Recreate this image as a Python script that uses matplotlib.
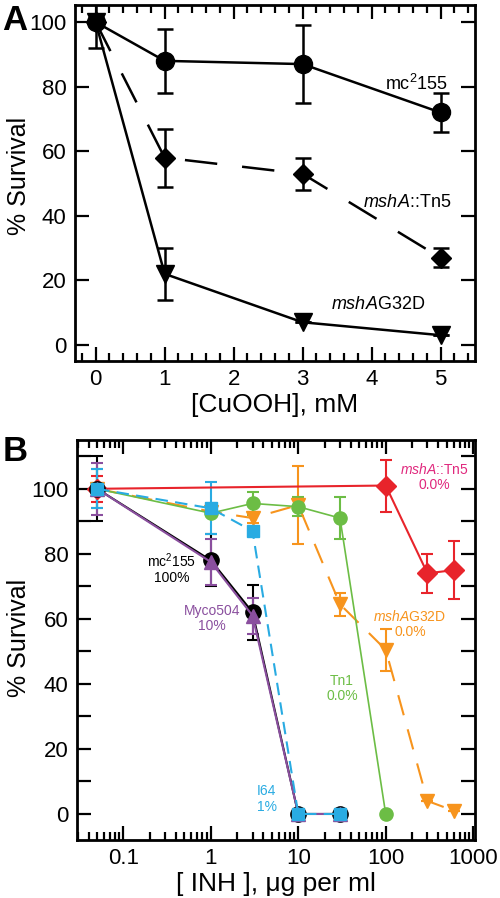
import numpy as np
import matplotlib.pyplot as plt
from matplotlib.ticker import MultipleLocator, LogLocator, NullFormatter

plt.rcParams['font.family'] = ['Liberation Sans', 'DejaVu Sans']
plt.rcParams['mathtext.fontset'] = 'custom'
plt.rcParams['mathtext.rm'] = 'Liberation Sans'
plt.rcParams['mathtext.it'] = 'Liberation Sans:italic'

# Panel A: CuOOH survival
cu_mM = [0, 1, 3, 5]
a_wt = [100, 88, 87, 72]
a_wt_err = [8, 10, 12, 6]
a_tn5 = [100, 58, 53, 27]
a_tn5_err = [0, 9, 5, 3]
a_g32d = [100, 22, 7, 3]
a_g32d_err = [0, 8, 0, 0]

# Panel B: INH survival
inh = [0.05, 1, 3, 10, 30, 100, 300, 600]
b_wt_x = [0.05, 1, 3, 10, 30]
b_wt = [100, 78, 62, 0, 0]
b_wt_err = [10, 8, 8.5, 0, 0]
b_myco_x = [0.05, 1, 3, 10, 30]
b_myco = [100, 77.5, 61, 0, 0]
b_myco_err = [8, 7, 5.5, 0, 0]
b_i64_x = [0.05, 1, 3, 10, 30]
b_i64 = [100, 94, 87, 0, 0]
b_i64_err = [6, 8, 0, 0, 0]
b_tn1_x = [0.05, 1, 3, 10, 30, 100]
b_tn1 = [100, 92.5, 95.5, 94.5, 91, 0]
b_tn1_err = [6, 0, 3.5, 3, 6.5, 0]
b_g32d_x = inh
b_g32d = [100, 93, 91, 95, 64.5, 50.5, 4, 1]
b_g32d_err = [0, 0, 1.5, 12, 3.5, 6.5, 0, 0]
b_tn5_x = [0.05, 100, 300, 600]
b_tn5 = [100, 101, 74, 75]
b_tn5_err = [4, 8, 6, 9]

RED = '#e8242b'
ORANGE = '#f7941d'
GREEN = '#6cbd45'
CYAN = '#29abe2'
PURPLE = '#8a4f9e'

fig = plt.figure(figsize=(5, 8.98), dpi=100)
axA = fig.add_axes([0.15, 0.598, 0.80, 0.3964])
axB = fig.add_axes([0.154, 0.0646, 0.796, 0.4454])

def style(ax):
    for s in ax.spines.values():
        s.set_linewidth(2)
    ax.tick_params(which='both', direction='in', top=True, right=True,
                   width=1.6, labelsize=16, pad=6)
    ax.tick_params(which='major', length=10)
    ax.tick_params(which='minor', length=5.5)

# ---- Panel A ----
ek = dict(capsize=6, elinewidth=1.8, capthick=1.8)
axA.errorbar(cu_mM, a_g32d, yerr=a_g32d_err, color='black', lw=1.8,
             marker='v', ms=13, **ek)
axA.errorbar(cu_mM, a_tn5, yerr=a_tn5_err, color='black', lw=1.8,
             marker='D', ms=10, dashes=(13, 10), **ek)
axA.errorbar(cu_mM, a_wt, yerr=a_wt_err, color='black', lw=1.8,
             marker='o', ms=13, **ek)
axA.set_xlim(-0.3, 5.5)
axA.set_ylim(-5, 105.3)
axA.xaxis.set_major_locator(MultipleLocator(1))
axA.xaxis.set_minor_locator(MultipleLocator(0.2))
axA.yaxis.set_major_locator(MultipleLocator(20))
style(axA)
axA.set_xlabel('[CuOOH], mM', fontsize=19, labelpad=2)
axA.set_ylabel('% Survival', fontsize=18)
axA.yaxis.set_label_coords(-0.11, 0.52)
axA.text(4.65, 81, r'mc$^2$155', fontsize=13, ha='center', va='center')
axA.text(4.52, 44, r'$\it{mshA}$::Tn5', fontsize=13, ha='center', va='center')
axA.text(4.09, 12.4, r'$\it{mshA}$G32D', fontsize=13, ha='center', va='center')
fig.text(0.005, 0.977, 'A', fontsize=25, fontweight='bold', va='center')

# ---- Panel B ----
ekb = dict(capsize=4, elinewidth=1.5, capthick=1.5)
axB.errorbar(b_tn5_x, b_tn5, yerr=b_tn5_err, color=RED, lw=1.5,
             marker='D', ms=10, **ekb)
axB.errorbar(b_g32d_x, b_g32d, yerr=b_g32d_err, color=ORANGE, lw=1.5,
             marker='v', ms=10, dashes=(10, 7), **ekb)
axB.errorbar(b_tn1_x, b_tn1, yerr=b_tn1_err, color=GREEN, lw=1.2,
             marker='o', ms=9.5, **ekb)
axB.errorbar(b_wt_x, b_wt, yerr=b_wt_err, color='black', lw=1.5,
             marker='o', ms=11, **ekb)
axB.errorbar(b_myco_x, b_myco, yerr=b_myco_err, color=PURPLE, lw=1.5,
             marker='^', ms=10, **ekb)
axB.errorbar(b_i64_x, b_i64, yerr=b_i64_err, color=CYAN, lw=1.5,
             marker='s', ms=9, dashes=(6, 3.5), **ekb)
axB.set_xscale('log')
axB.set_xlim(0.0295, 1050)
axB.set_ylim(-8, 115)
axB.set_xticks([0.1, 1, 10, 100, 1000], ['0.1', '1', '10', '100', '1000'])
axB.xaxis.set_minor_locator(LogLocator(base=10, subs=np.arange(2, 10)))
axB.xaxis.set_minor_formatter(NullFormatter())
axB.yaxis.set_major_locator(MultipleLocator(20))
axB.yaxis.set_minor_locator(MultipleLocator(10))
style(axB)
axB.tick_params(axis='y', which='minor', length=10)
axB.set_xlabel('[ INH ], \u03bcg per ml', fontsize=19, labelpad=2)
axB.set_ylabel('% Survival', fontsize=18)
axB.yaxis.set_label_coords(-0.115, 0.505)
tb = dict(fontsize=10, ha='center', va='center', linespacing=1.1)
axB.text(0.36, 75.5, 'mc$^2$155\n100%', color='black', **tb)
axB.text(1.03, 60, 'Myco504\n10%', color=PURPLE, **tb)
axB.text(4.35, 4.6, 'I64\n1%', color=CYAN, **tb)
axB.text(31.6, 38.7, 'Tn1\n0.0%', color=GREEN, **tb)
axB.text(189, 58.3, r'$\it{mshA}$G32D' + '\n0.0%', color=ORANGE, **tb)
axB.text(355, 103.5, r'$\it{mshA}$::Tn5' + '\n0.0%', color='#e0287d', **tb)
fig.text(0.005, 0.497, 'B', fontsize=25, fontweight='bold', va='center')

fig.savefig('out.png', dpi=100)
